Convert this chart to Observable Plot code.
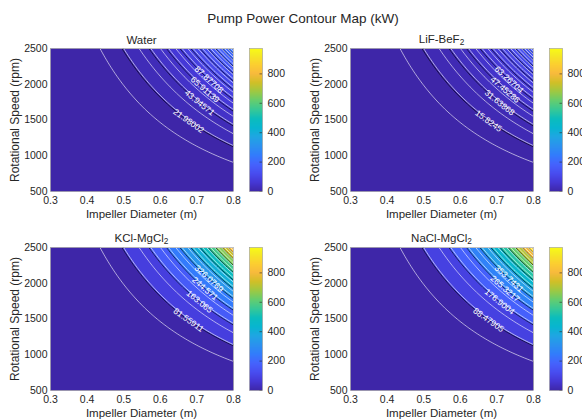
<!DOCTYPE html>
<html><head><meta charset="utf-8">
<script src="https://cdn.jsdelivr.net/npm/d3@7"></script>
<script src="https://cdn.jsdelivr.net/npm/@observablehq/plot@0.6"></script>
<style>
html,body{margin:0;padding:0;background:#fff;overflow:hidden;}
#fig{position:relative;width:582px;height:419px;overflow:hidden;font-family:"Liberation Sans",Arial,Helvetica,sans-serif;color:#262626;background:#fff;}
.lbl{position:absolute;white-space:nowrap;transform:translate(-50%,-50%);line-height:1;}
.lbl sub{font-size:0.72em;vertical-align:-0.25em;}
svg{position:absolute;overflow:visible;}
</style></head><body><div id="fig"></div>
<script>
// ---- data ----
const fluids = ["Water", "LiF-BeF<sub>2</sub>", "KCl-MgCl<sub>2</sub>", "NaCl-MgCl<sub>2</sub>"];
const waterLabels = [21.98002, 43.94571, 65.91139, 87.87708];
const lifLabels   = [15.8245, 31.63868, 47.45286, 63.26704];
const kclLabels   = [81.55911, 163.065, 244.571, 326.0769];
const naclLabels  = [88.47905, 176.9004, 265.3217, 353.7431];
const diameterRange = [0.3, 0.8];
const speedRange = [500, 2500];
const xTicks = [0.3, 0.4, 0.5, 0.6, 0.7, 0.8];
const yTicks = [500, 1000, 1500, 2000, 2500];
const cbTicks = [0, 200, 400, 600, 800];
const fillLevelCount = 10;   // contourf levels (labelled)
const lineLevelCount = 20;   // overlaid white contour levels
const labelDiameters = [0.677, 0.707, 0.722, 0.733];
const title = "Pump Power Contour Map (kW)";
const xLabel = "Impeller Diameter (m)";
const yLabel = "Rotational Speed (rpm)";

// parula colormap key colours
const parula = [[0.2422,0.1504,0.6603],[0.2706,0.2147,0.8364],[0.2813,0.3006,0.9414],[0.2699,0.3892,0.9906],
 [0.1963,0.4847,0.9892],[0.1687,0.5703,0.9359],[0.1248,0.6459,0.8883],[0.0297,0.7082,0.8163],
 [0.0433,0.7411,0.7394],[0.2161,0.7843,0.5923],[0.3909,0.8029,0.4354],[0.6174,0.7876,0.2612],
 [0.8203,0.7498,0.1535],[0.9728,0.7298,0.2394],[0.9892,0.8136,0.1885],[0.9597,0.9135,0.1423],[0.9769,0.9839,0.0805]];
const parulaPos = [0,4,8,12,16,20,24,28,32,36,40,44,48,52,56,60,63].map(i => i / 63);
const parulaScale = d3.scaleLinear().domain(parulaPos)
  .range(parula.map(([r,g,b]) => d3.rgb(r*255, g*255, b*255).toString()))
  .interpolate(d3.interpolateRgb).clamp(true);
const parulaInterp = t => parulaScale(t);

// ---- model per fluid: P = c * D^5 * N^3 ----
const labelSets = [waterLabels, lifLabels, kclLabels, naclLabels];
const models = labelSets.map(L => {
  const step = L[1] - L[0];
  const pmin = L[0] - step;
  const pmax = pmin + (fillLevelCount + 1) * step;
  const c = pmax / (Math.pow(diameterRange[1], 5) * Math.pow(speedRange[1], 3));
  return {step, pmin, pmax, c, labels: L};
});
const cmax = d3.max(models, m => m.pmax);

const fig = document.getElementById("fig");
function addLabel(html, x, y, size, rot) {
  const d = document.createElement("div");
  d.className = "lbl";
  d.innerHTML = html;
  d.style.left = x + "px"; d.style.top = y + "px"; d.style.fontSize = size + "px";
  if (rot) d.style.transform = "translate(-50%,-50%) rotate(" + rot + "deg)";
  fig.appendChild(d);
}

const W = 183, H = 143, ML = 40, MR = 2, MT = 2, MB = 22;
const frames = [[50, 48], [350, 48], [50, 247], [350, 247]];
const style = {fontFamily: '"Liberation Sans", Arial, sans-serif', fontSize: "10.5px", color: "#262626", background: "transparent", overflow: "visible"};
const colorOpt = {type: "linear", domain: [0, cmax], interpolate: parulaInterp};

addLabel(title, 303, 19, 13.5);

models.forEach((m, i) => {
  const [x0, y0] = frames[i];
  const fn = (x, y) => m.c * Math.pow(x, 5) * Math.pow(y, 3);
  const ext = {x1: diameterRange[0], x2: diameterRange[1], y1: speedRange[0], y2: speedRange[1]};
  const blackT = d3.range(1, fillLevelCount + 1).map(k => m.pmin + k * m.step);
  const fillT = [0, ...blackT];
  const whiteT = d3.range(1, lineLevelCount + 1).map(k => m.pmin + k * (m.pmax - m.pmin) / (lineLevelCount + 1));
  const sx = W / (diameterRange[1] - diameterRange[0]);
  const sy = H / (speedRange[1] - speedRange[0]);
  const labelRows = m.labels.map((v, k) => {
    const D = labelDiameters[k];
    const N = Math.cbrt(v / (m.c * Math.pow(D, 5)));
    const a = Math.atan((5 / 3) * (N / D) * sy / sx) * 180 / Math.PI;
    return {D, N, t: String(v), a};
  });
  const p = Plot.plot({
    width: W + ML + MR, height: H + MT + MB,
    marginLeft: ML, marginRight: MR, marginTop: MT, marginBottom: MB,
    x: {domain: diameterRange, ticks: xTicks, tickFormat: d3.format(".1f"), tickSize: 0, tickPadding: 5, label: null},
    y: {domain: speedRange, ticks: yTicks, tickFormat: d => String(d), tickSize: 0, tickPadding: 3, label: null},
    color: colorOpt,
    style,
    marks: [
      Plot.contour({value: fn, ...ext, fill: "value", thresholds: fillT, pixelSize: 1}),
      Plot.contour({value: fn, ...ext, thresholds: blackT, stroke: "#000", strokeWidth: 0.6, fill: "none", pixelSize: 1}),
      Plot.contour({value: fn, ...ext, thresholds: whiteT, stroke: "#fff", strokeWidth: 0.6, fill: "none", pixelSize: 1}),
      Plot.text(labelRows, {x: "D", y: "N", text: "t", rotate: "a", fill: "white", fontSize: 8.5}),
      Plot.frame({stroke: "#9a9a9a", strokeWidth: 0.6})
    ]
  });
  p.style.left = (x0 - ML) + "px"; p.style.top = (y0 - MT) + "px";
  fig.appendChild(p);

  // colorbar
  const cbX = x0 + 199;
  const cb = Plot.plot({
    width: 13 + 1 + 30, height: H + MT + MB,
    marginLeft: 1, marginRight: 30, marginTop: MT, marginBottom: MB,
    x: {domain: [0, 1], axis: null},
    y: {domain: [0, cmax], axis: null},
    color: colorOpt,
    style,
    marks: [
      Plot.raster({fill: (x, y) => y, x1: 0, x2: 1, y1: 0, y2: cmax, pixelSize: 1}),
      Plot.tickY(cbTicks, {y: d => d, stroke: "#262626", strokeWidth: 0.6, insetLeft: 10.5}),
      Plot.frame({stroke: "#9a9a9a", strokeWidth: 0.6}),
      Plot.axisY({anchor: "right", ticks: cbTicks, tickSize: 0, tickPadding: 5, tickFormat: d => String(d), label: null})
    ]
  });
  cb.style.left = (cbX - 1) + "px"; cb.style.top = (y0 - MT) + "px";
  fig.appendChild(cb);

  addLabel(fluids[i], x0 + W / 2, y0 - 7, 11.5);
  addLabel(xLabel, x0 + W / 2, y0 + H + 24, 11.5);
  addLabel(yLabel, x0 - 35, y0 + H / 2, 12, -90);
});
</script></body></html>
